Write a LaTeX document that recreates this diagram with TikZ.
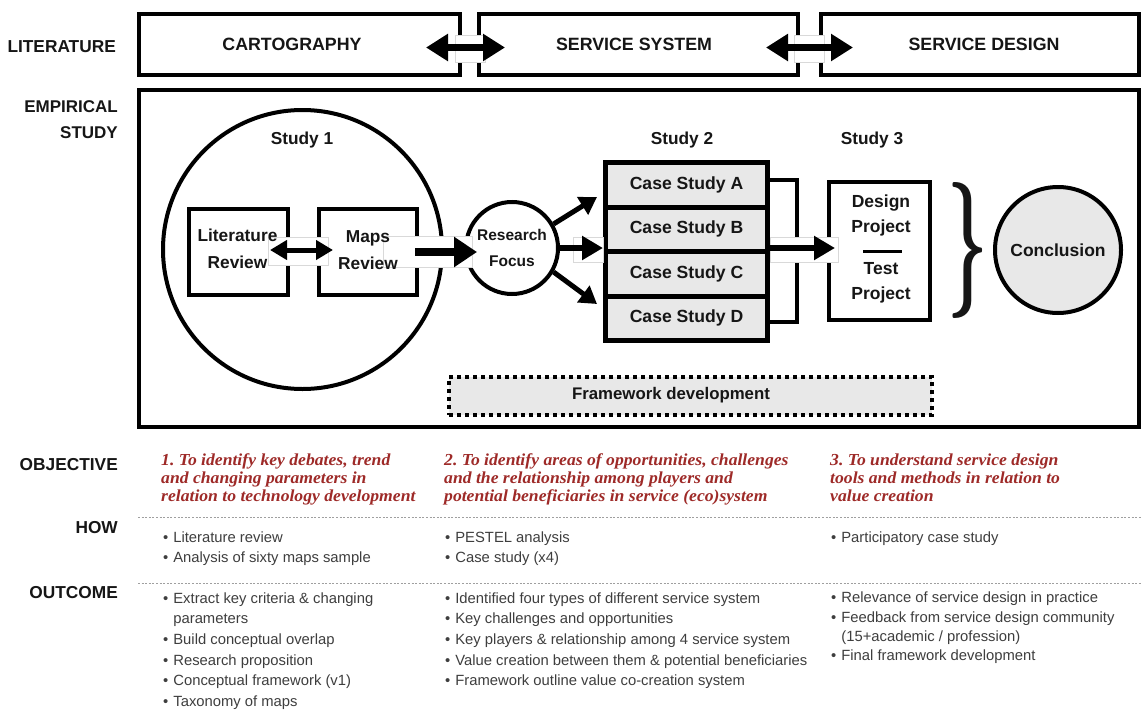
\documentclass[tikz,border=0pt]{standalone}
\usepackage{fontspec}
\usepackage{graphicx}
\setsansfont{Liberation Sans}
\newfontfamily\objfont[FakeStretch=1.05]{Liberation Serif}
\usetikzlibrary{arrows.meta,calc}
\definecolor{objred}{RGB}{158,42,40}
\definecolor{boxgray}{RGB}{232,232,232}
\definecolor{ink}{RGB}{22,22,22}
\definecolor{bodytext}{RGB}{62,62,62}
\frenchspacing

\begin{document}
\begin{tikzpicture}[x=1pt,y=-1pt,
  every node/.style={font=\sffamily, text=ink},
  head/.style={font=\sffamily\bfseries\fontsize{17.3}{20}\selectfont, text=ink, inner sep=0pt},
  twoline/.style={font=\sffamily\bfseries\fontsize{17.3}{26.5}\selectfont, text=ink, inner sep=0pt, align=center},
  heavybox/.style={draw=black, line width=4pt, inner sep=0pt, rectangle},
  casebox/.style={draw=black, line width=5pt, fill=boxgray, minimum width=162pt, minimum height=44.5pt, inner sep=0pt, head, font=\sffamily\bfseries\fontsize{17.6}{20}\selectfont},
  patch/.style={fill=white, draw=gray!30, line width=0.6pt},
  dblarrow/.style={line width=6.5pt, {Triangle[length=22pt,width=26pt]}-{Triangle[length=22pt,width=26pt]}},
  dblsmall/.style={line width=5pt, {Triangle[length=17pt,width=19pt]}-{Triangle[length=17pt,width=19pt]}},
  fatarrow/.style={line width=8pt, -{Triangle[length=23pt,width=29pt]}},
  midarrow/.style={line width=6pt, -{Triangle[length=21pt,width=23pt]}},
  thinarrow/.style={line width=5pt, -{Triangle[length=17pt,width=20pt]}},
  sepline/.style={draw=gray!75, line width=1pt, dash pattern=on 2pt off 1.6pt},
  objtext/.style={font=\objfont\bfseries\itshape\fontsize{16.8}{18.3}\selectfont, text=objred, inner sep=0pt, anchor=north west},
  listtext/.style={font=\sffamily\fontsize{14.8}{20.7}\selectfont, text=bodytext, inner sep=0pt, anchor=north west}
]
\fill[white] (0,0) rectangle (1143,720);
\useasboundingbox (0,0) rectangle (1143,720);

% ---------- literature row ----------
\node[head, anchor=east] (litlab) at (116,47) {LITERATURE};
\node[heavybox, minimum width=321pt, minimum height=61pt] (lit1) at (299.5,44.5) {};
\node[heavybox, minimum width=319pt, minimum height=61pt] (lit2) at (638.5,44.5) {};
\node[heavybox, minimum width=318pt, minimum height=61pt] (lit3) at (980,44.5) {};
\node[head, font=\sffamily\bfseries\fontsize{17.8}{20}\selectfont] (lit1t) at (292,44) {CARTOGRAPHY};
\node[head, font=\sffamily\bfseries\fontsize{17.8}{20}\selectfont] (lit2t) at (634,44) {SERVICE SYSTEM};
\node[head, font=\sffamily\bfseries\fontsize{17.8}{20}\selectfont] (lit3t) at (984,44) {SERVICE DESIGN};
\draw[patch] (455,35) rectangle (485,62);
\draw[patch] (794,35) rectangle (824,62);
\draw[dblarrow] ($(lit1.east)+(-36,3)$) -- ($(lit2.west)+(28,3)$);
\draw[dblarrow] ($(lit2.east)+(-34,3)$) -- ($(lit3.west)+(34,3)$);

% ---------- empirical study frame ----------
\node[head, anchor=east, align=right, font=\sffamily\bfseries\fontsize{17}{26}\selectfont] (emplab) at (118,120) {EMPIRICAL\\STUDY};
\node[heavybox, minimum width=1000pt, minimum height=337pt] (emp) at (639,258.5) {};

% study 1
\node[circle, draw=black, line width=4pt, minimum size=279pt, inner sep=0pt] (s1) at (302.5,249.5) {};
\node[head] (s1lab) at (302,140) {Study 1};
\node[heavybox, minimum width=99pt, minimum height=86pt] (lr) at (238.5,252) {};
\node[heavybox, minimum width=98pt, minimum height=86pt] (mr) at (368,252) {};
\node[circle, draw=black, line width=4pt, minimum size=92pt, inner sep=0pt, fill=white] (rf) at (512,248) {};

% study 2
\node[head] (s2lab) at (682,140) {Study 2};
\node[casebox] (csA) at (686.5,184.75) {Case Study A};
\node[casebox] (csB) at (686.5,229.25) {Case Study B};
\node[casebox] (csC) at (686.5,273.75) {Case Study C};
\node[casebox] (csD) at (686.5,318.25) {Case Study D};
\draw[line width=4pt] ($(csA.east)+(0,-4.75)$) -- ++(27,0) |- ($(csD.east)+(0,3.75)$);

% study 3
\node[head] (s3lab) at (872,140) {Study 3};
\node[heavybox, minimum width=101pt, minimum height=138pt] (dp) at (879.5,251) {};
\draw[line width=3pt] ($(dp.center)+(-16.5,0)$) -- ($(dp.center)+(22.5,0)$);

% closing brace and conclusion
\node[inner sep=0pt, font=\rmfamily\bfseries\fontsize{136}{136}\selectfont] (brace) at (968,250) {\scalebox{0.52}[1]{\}}};
\node[circle, draw=black, line width=4pt, fill=boxgray, minimum size=126pt, inner sep=0pt, head, font=\sffamily\bfseries\fontsize{17.5}{20}\selectfont] (concl) at (1058,250) {Conclusion};

% framework development
\node[draw=black, line width=4pt, dash pattern=on 4pt off 4pt, fill=boxgray, minimum width=483pt, minimum height=38pt, inner sep=0pt] (fw) at (690.5,396) {};
\node[head, font=\sffamily\bfseries\fontsize{16.8}{20}\selectfont] (fwtext) at (671,395) {Framework development};

% connectors inside the frame
\draw[patch] (268,237) rectangle (328,265);
\draw[patch] (383,236) rectangle (472,267);
\draw[patch] (573,237) rectangle (603,262);
\draw[patch] (770,237) rectangle (838,262);
\draw[dblsmall] ($(lr.east)+(-20,-2)$) -- ($(mr.west)+(16,-2)$);
\draw[fatarrow] ($(mr.east)+(-4,0)$) -- ($(rf.west)+(13,4)$);
\draw[thinarrow] (rf.30) -- ($(csA.west)+(-6,12.25)$);
\draw[thinarrow] (rf.-30) -- ($(csD.west)+(-6,-14.25)$);
\draw[midarrow] (rf.east) -- (rf.east -| csB.west);
\draw[midarrow] (rf.east -| csB.east) -- ($(rf.east -| dp.west)+(8,0)$);

% texts of the empty frames
\node[twoline] (lrt) at ($(lr.center)+(-1,-3)$) {Literature\\Review};
\node[twoline] (mrt) at ($(mr.center)+(0,-2)$) {Maps\\Review};
\node[twoline, font=\sffamily\bfseries\fontsize{15.5}{25.5}\selectfont] (rft) at (rf.center) {Research\\Focus};
\node[twoline, font=\sffamily\bfseries\fontsize{17.5}{25}\selectfont] (dpt1) at (881,215.5) {Design\\Project};
\node[twoline, font=\sffamily\bfseries\fontsize{17.5}{25}\selectfont] (dpt2) at (881,282.5) {Test\\Project};

% ---------- objectives, methods, outcomes ----------
\node[head, anchor=east] (objlab) at (118,465) {OBJECTIVE};
\node[head, anchor=east] (howlab) at (118,528) {HOW};
\node[head, anchor=east] (outlab) at (118,593) {OUTCOME};
\draw[sepline] (138,517) -- (1141,517);
\draw[sepline] (138,583) -- (1141,583);

\node[objtext] (obj1) at (161,452) {\begin{tabular}{@{}l@{}}1. To identify key debates, trend\\and changing parameters in\\relation to technology development\end{tabular}};
\node[objtext] (obj2) at (444,452) {\begin{tabular}{@{}l@{}}2. To identify areas of opportunities, challenges\\and the relationship among players and\\potential beneficiaries in service (eco)system\end{tabular}};
\node[objtext] (obj3) at (830,452) {\begin{tabular}{@{}l@{}}3. To understand service design\\tools and methods in relation to\\value creation\end{tabular}};

\node[listtext] (how1) at (163,527.5) {\begin{tabular}{@{}l@{\hspace{5pt}}l@{}}
\textbullet & Literature review\\
\textbullet & Analysis of sixty maps sample\end{tabular}};
\node[listtext] (how2) at (445,527.5) {\begin{tabular}{@{}l@{\hspace{5pt}}l@{}}
\textbullet & PESTEL analysis\\
\textbullet & Case study (x4)\end{tabular}};
\node[listtext] (how3) at (831,527.5) {\begin{tabular}{@{}l@{\hspace{5pt}}l@{}}
\textbullet & Participatory case study\end{tabular}};

\node[listtext] (out1) at (163,588.5) {\begin{tabular}{@{}l@{\hspace{5pt}}l@{}}
\textbullet & Extract key criteria \& changing\\
 & parameters\\
\textbullet & Build conceptual overlap\\
\textbullet & Research proposition\\
\textbullet & Conceptual framework (v1)\\
\textbullet & Taxonomy of maps\end{tabular}};
\node[listtext] (out2) at (445,588.5) {\begin{tabular}{@{}l@{\hspace{5pt}}l@{}}
\textbullet & Identified four types of different service system\\
\textbullet & Key challenges and opportunities\\
\textbullet & Key players \& relationship among 4 service system\\
\textbullet & Value creation between them \& potential beneficiaries\\
\textbullet & Framework outline value co-creation system\end{tabular}};
\node[listtext, font=\sffamily\fontsize{14.8}{19.3}\selectfont] (out3) at (831,589) {\begin{tabular}{@{}l@{\hspace{5pt}}l@{}}
\textbullet & Relevance of service design in practice\\
\textbullet & Feedback from service design community\\
 & (15+academic / profession)\\
\textbullet & Final framework development\end{tabular}};
\end{tikzpicture}
\end{document}
